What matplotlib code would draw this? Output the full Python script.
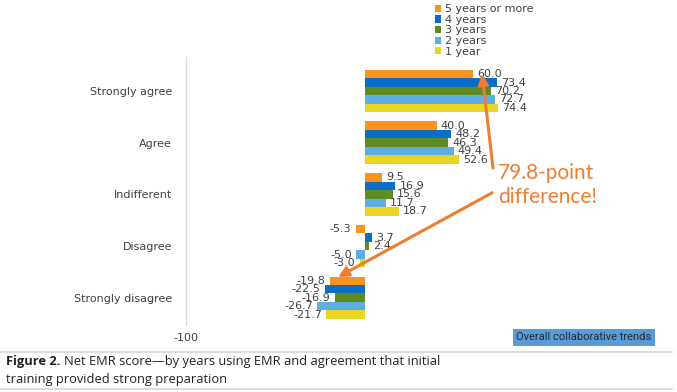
import matplotlib
matplotlib.use("Agg")
import matplotlib.pyplot as plt
import numpy as np

# data
categories = ["Strongly agree", "Agree", "Indifferent", "Disagree", "Strongly disagree"]
series_names = ["5 years or more", "4 years", "3 years", "2 years", "1 year"]
yrs5 = [60.0, 40.0, 9.5, -5.3, -19.8]
yrs4 = [73.4, 48.2, 16.9, 3.7, -22.5]
yrs3 = [70.2, 46.3, 15.6, 2.4, -16.9]
yrs2 = [72.7, 49.4, 11.7, -5.0, -26.7]
yrs1 = [74.4, 52.6, 18.7, -3.0, -21.7]
colors = ["#F7931E", "#0A6EC6", "#5E8C21", "#5DAEE3", "#E9D622"]
xticks = [-100]

series = [yrs5, yrs4, yrs3, yrs2, yrs1]

fig = plt.figure(figsize=(6.77, 3.92), dpi=100)
ax = fig.add_axes([0.2747, 0.1709, 0.5292, 0.6837])

h = 0.164
y = np.arange(len(categories))
label_color = "#404040"
for i, (name, vals, c) in enumerate(zip(series_names, series, colors)):
    pos = y + (i - 2) * h
    ax.barh(pos, vals, height=h, color=c, label=name)
    for p, v in zip(pos, vals):
        if v >= 0:
            ax.annotate(f"{v:.1f}", (v, p), xytext=(3, 0), textcoords="offset points",
                        ha="left", va="center", fontsize=8, color=label_color)
        else:
            ax.annotate(f"{v:.1f}", (v, p), xytext=(-3, 0), textcoords="offset points",
                        ha="right", va="center", fontsize=8, color=label_color)

ax.set_xlim(-100, 100)
ax.set_ylim(4.528, -0.658)
ax.set_yticks(y)
ax.set_yticklabels(categories, fontsize=8, color="#404040")
ax.set_xticks(xticks)
ax.set_xticklabels([str(t) for t in xticks], fontsize=8, color="#404040")
ax.tick_params(axis="both", length=0)
ax.tick_params(axis="y", pad=10)
ax.tick_params(axis="x", pad=6)
for s in ["top", "right", "bottom"]:
    ax.spines[s].set_visible(False)
ax.spines["left"].set_color("#d9d9d9")
ax.spines["left"].set_linewidth(1)

# legend
fig.legend(loc="upper left", bbox_to_anchor=(429 / 677, 1.003), frameon=False,
           fontsize=8, handlelength=0.6, handleheight=0.6, handletextpad=0.3,
           labelspacing=0.05, borderpad=0, labelcolor="#404040")

# call-out
orange = "#ED7D31"
ax.text(74.2, 1.81, "79.8-point\ndifference!", fontsize=15, color=orange,
        family="Lato", va="center", ha="left", linespacing=1.25)
arrow = dict(arrowstyle="-|>,head_length=0.6,head_width=0.3", color=orange, lw=2.2,
             shrinkA=0, shrinkB=0)
ax.annotate("", xy=(65.3, -0.33), xytext=(71.4, 1.49), arrowprops=arrow)
ax.annotate("", xy=(-15.1, 3.6), xytext=(70.9, 1.97), arrowprops=arrow)

# button-like tag
fig.text(584 / 677, 1 - 337.5 / 392, "Overall collaborative trends", fontsize=8,
         family="Roboto", color="#1f2d3d", ha="center", va="center",
         bbox=dict(boxstyle="square,pad=0.35", fc="#5B9BD5", ec="none"))

# separators and caption
for yy in [352, 389]:
    fig.add_artist(plt.Line2D([0, 672 / 677], [1 - yy / 392] * 2, color="#d5d5d5", lw=1.2))
cap_font = dict(fontsize=9.3, family="Open Sans", color="#222222", va="center")
t = fig.text(6 / 677, 1 - 361.5 / 392, "Figure 2.", weight="bold", **cap_font)
fig.canvas.draw()
bb = t.get_window_extent()
fig.text((bb.x1 + 4) / 677, 1 - 361.5 / 392,
         "Net EMR score\u2014by years using EMR and agreement that initial", **cap_font)
fig.text(6 / 677, 1 - 379 / 392, "training provided strong preparation", **cap_font)

fig.savefig("out.png", dpi=100)
